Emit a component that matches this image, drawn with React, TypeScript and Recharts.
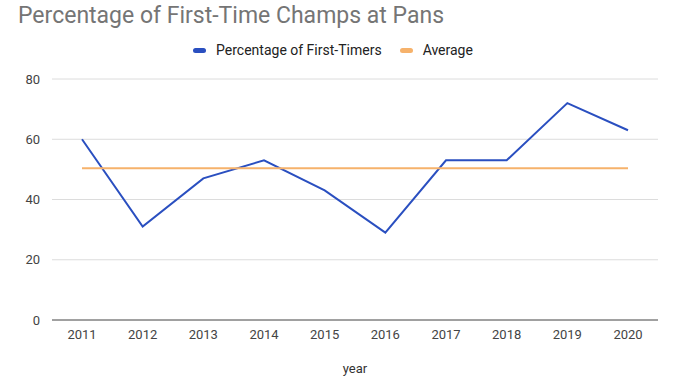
import * as React from "react";
import { LineChart, Line, XAxis, YAxis, CartesianGrid, Legend } from "recharts";

const years = ["2011", "2012", "2013", "2014", "2015", "2016", "2017", "2018", "2019", "2020"];
const firstTimers = [60, 31, 47, 53, 43, 29, 53, 53, 72, 63];
const average = [50.4, 50.4, 50.4, 50.4, 50.4, 50.4, 50.4, 50.4, 50.4, 50.4];
const yTicks = [0, 20, 40, 60, 80];
const legendOrder = ["Percentage of First-Timers", "Average"];

const BLUE = "#2a4fc0";
const ORANGE = "#f6b26b";
const FONT = "Roboto, Arial, sans-serif";

const data = years.map((year, i) => ({
  year,
  first: firstTimers[i],
  avg: average[i],
}));

function LegendContent({ payload }: any) {
  const items = [...(payload || [])].sort(
    (a: any, b: any) => legendOrder.indexOf(a.value) - legendOrder.indexOf(b.value)
  );
  return (
    <div
      style={{
        display: "flex",
        justifyContent: "center",
        gap: 18,
        paddingTop: 4,
        fontFamily: FONT,
        fontSize: 14,
        color: "#222",
      }}
    >
      {items.map((p: any) => (
        <div key={p.value} style={{ display: "flex", alignItems: "center", gap: 10 }}>
          <span style={{ display: "inline-block", width: 13, height: 5, borderRadius: 3, background: p.color }} />
          <span>{p.value}</span>
        </div>
      ))}
    </div>
  );
}

export default function App() {
  return (
    <div style={{ position: "absolute", left: 0, top: 0, width: 680, height: 382, background: "#fff" }}>
      <div
        style={{
          position: "absolute",
          left: 18,
          top: 2,
          fontFamily: FONT,
          fontSize: 23,
          color: "#757575",
          whiteSpace: "nowrap",
        }}
      >
        Percentage of First-Time Champs at Pans
      </div>
      <LineChart width={680} height={382} data={data} margin={{ top: 38, right: 22, bottom: 12, left: 8 }}>
        <CartesianGrid vertical={false} stroke="#dcdcdc" />
        <XAxis
          dataKey="year"
          padding={{ left: 30, right: 30 }}
          tickLine={false}
          axisLine={{ stroke: "#555" }}
          tick={{ fill: "#444", fontSize: 13, fontFamily: FONT }}
          tickMargin={4}
          height={50}
          label={{ value: "year", position: "insideBottom", offset: -3, fill: "#333", fontSize: 13, fontFamily: FONT }}
        />
        <YAxis
          domain={[0, 80]}
          ticks={yTicks}
          width={44}
          axisLine={false}
          tickLine={false}
          tick={{ fill: "#444", fontSize: 13, fontFamily: FONT }}
          tickMargin={6}
        />
        <Legend verticalAlign="top" align="center" height={41} content={<LegendContent />} />
        <Line
          dataKey="first"
          name="Percentage of First-Timers"
          stroke={BLUE}
          strokeWidth={2}
          dot={false}
          isAnimationActive={false}
          type="linear"
        />
        <Line
          dataKey="avg"
          name="Average"
          stroke={ORANGE}
          strokeWidth={2}
          dot={false}
          isAnimationActive={false}
          type="linear"
        />
      </LineChart>
    </div>
  );
}
